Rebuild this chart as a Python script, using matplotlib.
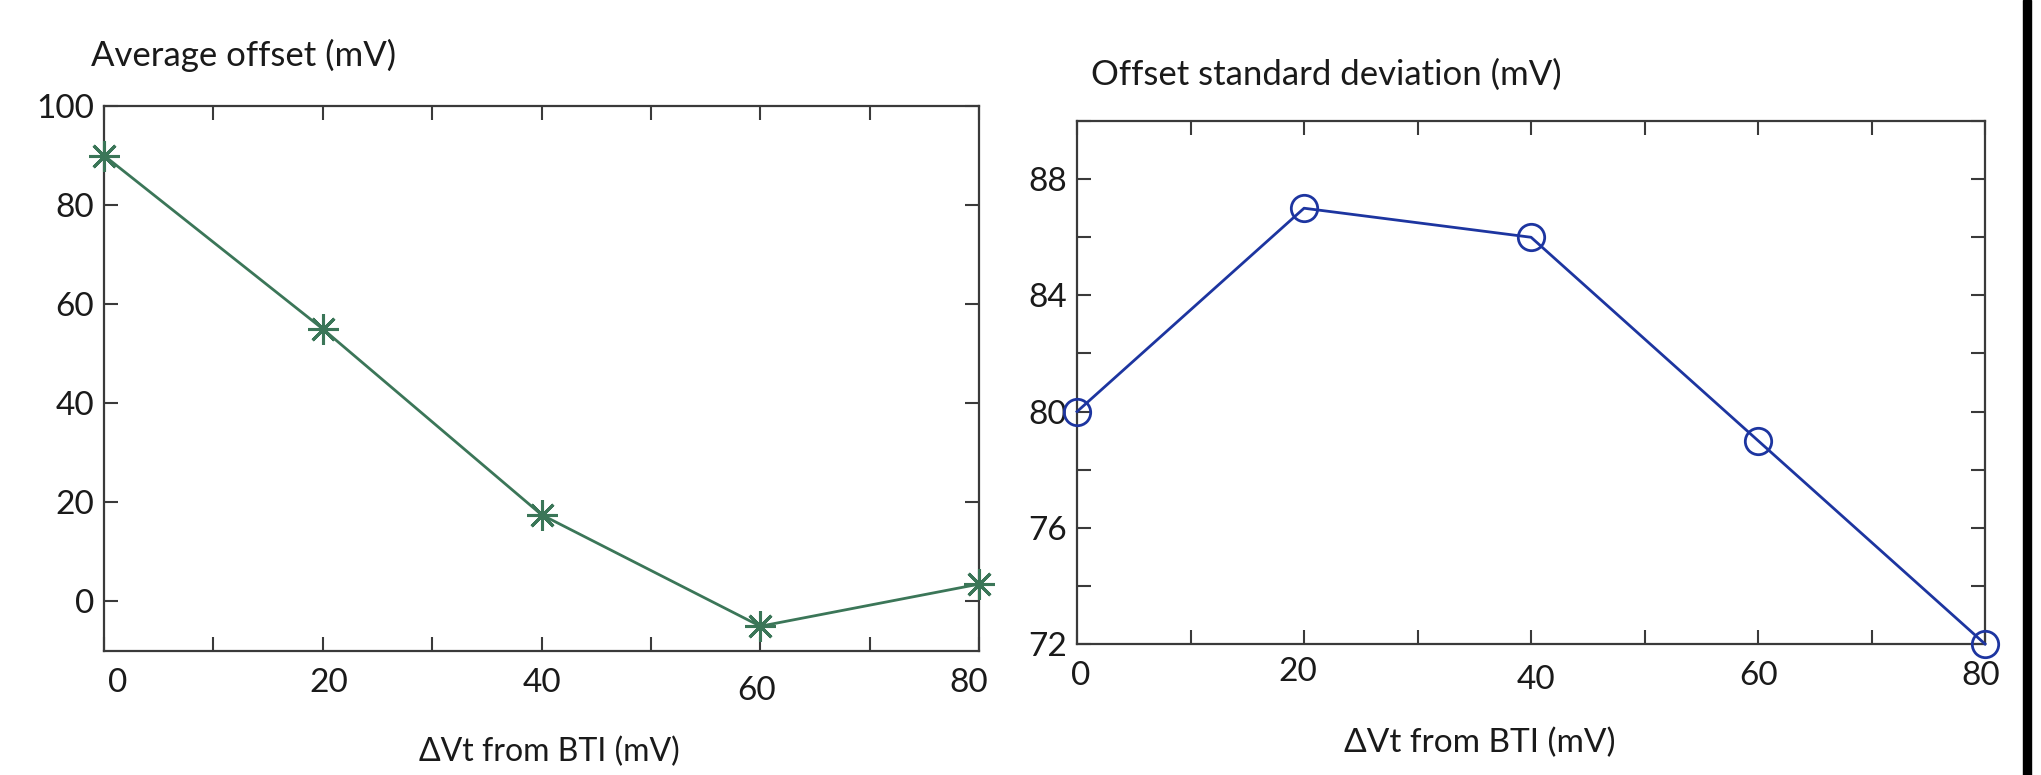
import matplotlib.pyplot as plt
from matplotlib.patches import Rectangle
from matplotlib.ticker import MultipleLocator
from matplotlib.transforms import ScaledTranslation

plt.rcParams['font.family'] = ['Lato', 'DejaVu Sans']

# data
dvt = [0, 20, 40, 60, 80]
avg_offset = [90, 55, 17.5, -5, 3.5]
std_offset = [80, 87, 86, 79, 72]

green = '#3b7658'
blue = '#1d35a0'
spine_col = '#3a3a3a'
txt_col = '#1a1a1a'

fig = plt.figure(figsize=(20.41, 7.75), dpi=100)

ax1 = fig.add_axes([0.0510, 0.160, 0.4287, 0.7032])
ax2 = fig.add_axes([0.5277, 0.169, 0.4449, 0.6748])

# left panel: average offset
ax1.plot(dvt, avg_offset, color=green, lw=2, marker=(8, 2, 0), ms=22, mew=2.2,
         clip_on=False, zorder=3)
ax1.set_xlim(0, 80)
ax1.set_ylim(-10, 100)

# right panel: offset standard deviation
ax2.plot(dvt, std_offset, color=blue, lw=2, marker='o', ms=19, mfc='none',
         mew=2, clip_on=False, zorder=3)
ax2.set_xlim(0, 80)
ax2.set_ylim(72, 90)
ax2.yaxis.set_minor_locator(MultipleLocator(2))

for ax in (ax1, ax2):
    ax.xaxis.set_major_locator(MultipleLocator(20))
    ax.xaxis.set_minor_locator(MultipleLocator(10))
    for s in ax.spines.values():
        s.set_color(spine_col)
        s.set_linewidth(1.6)
    ax.tick_params(which='both', direction='in', top=True, right=True,
                   length=10, width=1.5, color=spine_col)
    ax.tick_params(axis='both', labelsize=24, labelcolor=txt_col)
    ax.tick_params(axis='x', pad=12)
    ax.tick_params(axis='y', pad=7)

ax1.set_yticks([0, 20, 40, 60, 80, 100])
ax2.set_yticks([72, 76, 80, 84, 88])

# the scanned tick labels sit a little off their ticks
fig.canvas.draw()
shifts1 = {'0': (14, 0), '20': (6, 0), '60': (-4, -8), '80': (-10, 0)}
shifts2 = {'0': (4, 0), '20': (-6, 4), '40': (5, -4), '80': (-4, 0)}
for ax, shifts in ((ax1, shifts1), (ax2, shifts2)):
    for lab in ax.get_xticklabels():
        dx, dy = shifts.get(lab.get_text(), (0, 0))
        lab.set_transform(lab.get_transform() +
                          ScaledTranslation(dx / 100, dy / 100, fig.dpi_scale_trans))

# titles and x labels placed like the original
fig.text(0.0446, 0.929, 'Average offset (mV)', fontsize=25, color=txt_col,
         ha='left', va='center')
fig.text(0.5345, 0.903, 'Offset standard deviation (mV)', fontsize=25,
         color=txt_col, ha='left', va='center')
fig.text(0.269, 0.030, 'ΔVt from BTI (mV)', fontsize=23, color=txt_col,
         ha='center', va='center')
fig.text(0.725, 0.041, 'ΔVt from BTI (mV)', fontsize=24, color=txt_col,
         ha='center', va='center')

# black edge strip at the right of the scan
fig.patches.append(Rectangle((0.9912, 0), 0.0040, 1, transform=fig.transFigure,
                             color='black', zorder=0))

fig.savefig('out.png', dpi=100)
